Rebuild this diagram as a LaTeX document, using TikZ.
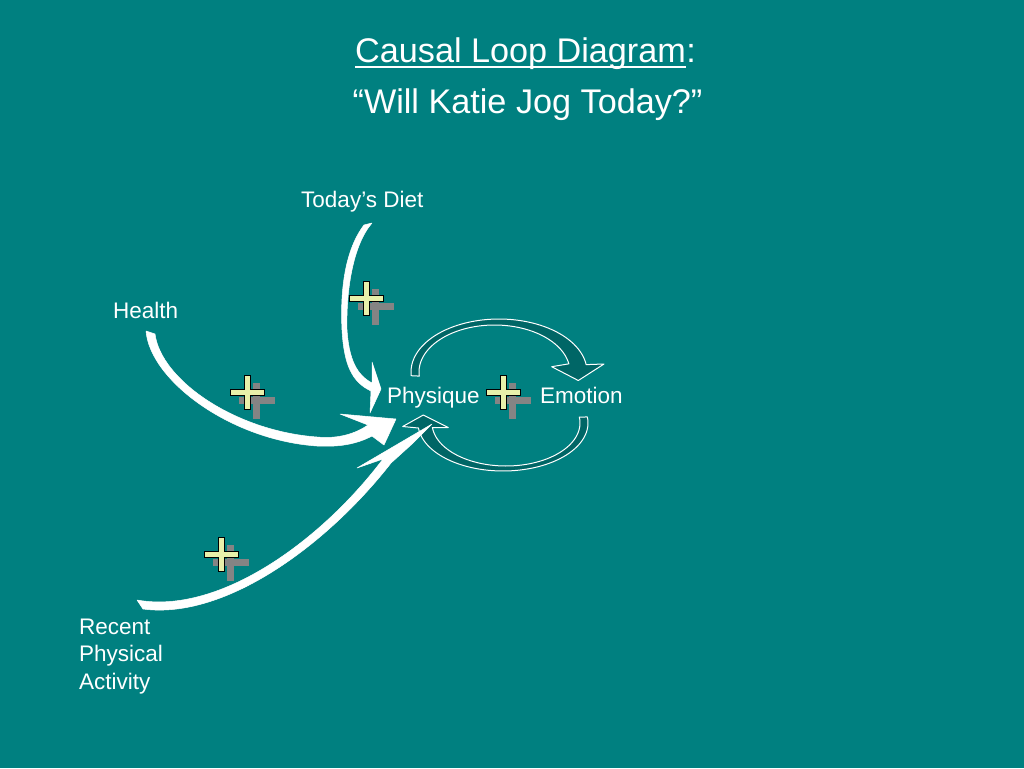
\documentclass[tikz,border=0pt]{standalone}
\usepackage{fontspec}
\setmainfont{Liberation Sans}
\usetikzlibrary{calc}
\definecolor{bgteal}{RGB}{0,128,128}
\definecolor{loopfill}{RGB}{0,102,102}
\definecolor{plusyellow}{RGB}{232,240,170}
\definecolor{shadowgray}{RGB}{132,132,132}
\tikzset{
  lab/.style={text=white, font=\fontsize{22.5}{27.5}\selectfont, inner sep=0pt, anchor=base west},
  titlefont/.style={text=white, font=\fontsize{34.2}{40}\selectfont, inner sep=0pt},
  loopband/.style={fill=loopfill, draw=white, line width=1pt, line join=round},
  whitearrow/.style={fill=white, draw=white, line width=0.5pt, line join=round},
  plusmark/.pic={
    \fill[shadowgray] (5.5,-9.5) rectangle (12.5,26);
    \fill[shadowgray] (-9,4.7) rectangle (27,11.7);
    \filldraw[fill=plusyellow, draw=black, line width=0.9pt]
      (-3.4,-17) -- (3.4,-17) -- (3.4,-3.4) -- (17,-3.4) -- (17,3.4) -- (3.4,3.4)
      -- (3.4,17) -- (-3.4,17) -- (-3.4,3.4) -- (-17,3.4) -- (-17,-3.4) -- (-3.4,-3.4) -- cycle;
  }
}
\begin{document}
\begin{tikzpicture}[x=1pt,y=-1pt]
\useasboundingbox (0,0) rectangle (1024,768);
\fill[bgteal] (0,0) rectangle (1024,768);

% title
\node[titlefont, anchor=base west] (t1) at (355,62.5) {Causal Loop Diagram};
\node[titlefont, anchor=base west] (t1c) at (t1.base east) {:};
\draw[white, line width=1.8pt] ($(t1.base west)+(0,4.5)$) -- ($(t1.base east)+(0,4.5)$);
\node[titlefont, anchor=base] (t2) at (527.5,113.5) {“Will Katie Jog Today?”};

% loop arrows between Physique and Emotion
\filldraw[loopband] plot[domain=176:352,samples=60] ({499+88*cos(\x)},{372+53*sin(\x)})
  -- (604,364) -- (578.3,380.5) -- (551.7,366.7)
  -- plot[domain=350:175,samples=60] ({494.5+75.5*cos(\x)},{372+47*sin(\x)}) -- cycle;
\filldraw[loopband] plot[domain=-7.2:174,samples=60] ({503+85*cos(\x)},{423+48*sin(\x)})
  -- (402.7,426.5) -- (423.3,415) -- (448.3,427.5)
  -- plot[domain=174:-8,samples=60] ({506+74*cos(\x)},{423+43*sin(\x)}) -- cycle;

% Today's Diet -> Physique
\filldraw[whitearrow] (364,225) .. controls (345,250) and (340,290) .. (342,330)
  .. controls (344,365) and (352,382) .. (371,391)
  -- (370,413) -- (381,389) -- (372,362) -- (372,383)
  .. controls (357,375) and (349,360) .. (347,330)
  .. controls (346,290) and (353,245) .. (372,223) -- cycle;

% Health -> Physique
\filldraw[whitearrow] (155,334) .. controls (161,380) and (235,431) .. (317,437)
  .. controls (338,439) and (355,434) .. (368,425)
  -- (340,414) -- (396,419) -- (384,445) -- (372,436)
  .. controls (355,445) and (337,447) .. (317,446)
  .. controls (230,440) and (150,380) .. (146,331) -- cycle;

% Recent Physical Activity -> Physique
\filldraw[whitearrow] (137,600) .. controls (220,615) and (322,540) .. (383,459)
  -- (357,468) -- (432,424) -- (412,444) -- (391,463)
  .. controls (327,545) and (225,620) .. (143,609) -- cycle;

% plus signs
\pic at (366.5,298.5) {plusmark};
\pic at (247.5,392.5) {plusmark};
\pic at (221.5,554.5) {plusmark};
\pic at (503.5,392.5) {plusmark};

% labels
\node[lab] (diet) at (301,207) {Today’s Diet};
\node[lab] (health) at (113,318) {Health};
\node[lab] (phys) at (387,403) {Physique};
\node[lab] (emo) at (540,403) {Emotion};
\node[lab] (rec1) at (79,634) {Recent};
\node[lab] (rec2) at (79,661.5) {Physical};
\node[lab] (rec3) at (79,689) {Activity};
\end{tikzpicture}
\end{document}
